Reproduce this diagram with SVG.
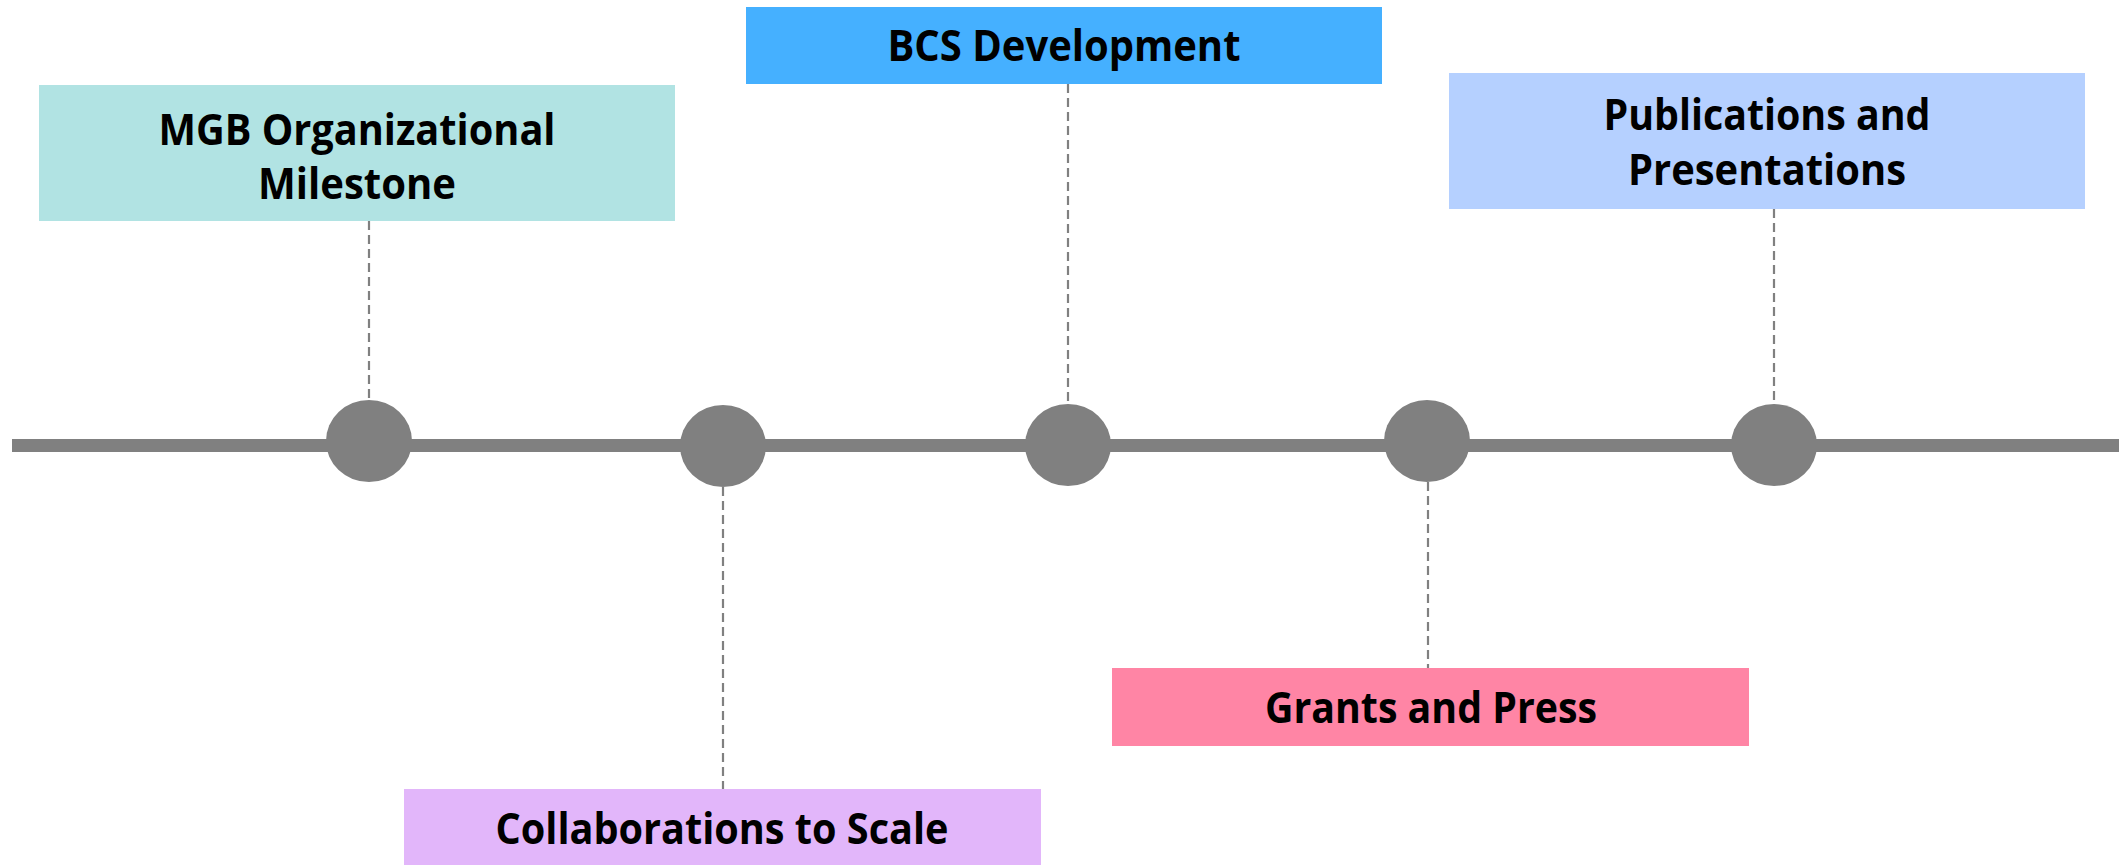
<svg xmlns="http://www.w3.org/2000/svg" width="2126" height="865" viewBox="0 0 2126 865">
<style>
.lbl{font-family:"Open Sans","Liberation Sans",sans-serif;font-weight:700;font-size:43px;fill:#000;text-anchor:middle}
.dash{stroke:#808080;stroke-width:2.2;stroke-dasharray:9,5;fill:none}
.dot{fill:#808080}
</style>
<rect width="2126" height="865" fill="#fff"/>
<g id="timeline">
<line x1="12" y1="445.5" x2="2119" y2="445.5" stroke="#808080" stroke-width="13"/>
</g>
<g id="connectors">
<line class="dash" x1="369" y1="221" x2="369" y2="400"/>
<line class="dash" x1="723" y1="487" x2="723" y2="789"/>
<line class="dash" x1="1068" y1="84" x2="1068" y2="404"/>
<line class="dash" x1="1428" y1="482" x2="1428" y2="668"/>
<line class="dash" x1="1774" y1="209" x2="1774" y2="405"/>
</g>
<g id="dot1"><ellipse class="dot" cx="369" cy="441" rx="43" ry="41"/></g>
<g id="dot2"><ellipse class="dot" cx="723" cy="446" rx="43" ry="41"/></g>
<g id="dot3"><ellipse class="dot" cx="1068" cy="445" rx="43" ry="41"/></g>
<g id="dot4"><ellipse class="dot" cx="1427" cy="441" rx="43" ry="41"/></g>
<g id="dot5"><ellipse class="dot" cx="1774" cy="445" rx="43" ry="41"/></g>
<g id="mgb">
<rect x="39" y="85" width="636" height="136" fill="#B1E3E3"/>
<text class="lbl" x="357" y="145" textLength="397" lengthAdjust="spacingAndGlyphs">MGB Organizational</text>
<text class="lbl" x="357" y="199" textLength="198" lengthAdjust="spacingAndGlyphs">Milestone</text>
</g>
<g id="bcs">
<rect x="746" y="7" width="636" height="77" fill="#45B0FF"/>
<text class="lbl" x="1064" y="61" textLength="353" lengthAdjust="spacingAndGlyphs">BCS Development</text>
</g>
<g id="pubs">
<rect x="1449" y="73" width="636" height="136" fill="#B5D0FF"/>
<text class="lbl" x="1767" y="130" textLength="327" lengthAdjust="spacingAndGlyphs">Publications and</text>
<text class="lbl" x="1767" y="185" textLength="278" lengthAdjust="spacingAndGlyphs">Presentations</text>
</g>
<g id="grants">
<rect x="1112" y="668" width="637" height="78" fill="#FF85A5"/>
<text class="lbl" x="1431" y="723" textLength="332" lengthAdjust="spacingAndGlyphs">Grants and Press</text>
</g>
<g id="collab">
<rect x="404" y="789" width="637" height="76" fill="#E2B6FA"/>
<text class="lbl" x="722" y="844" textLength="453" lengthAdjust="spacingAndGlyphs">Collaborations to Scale</text>
</g>
</svg>
